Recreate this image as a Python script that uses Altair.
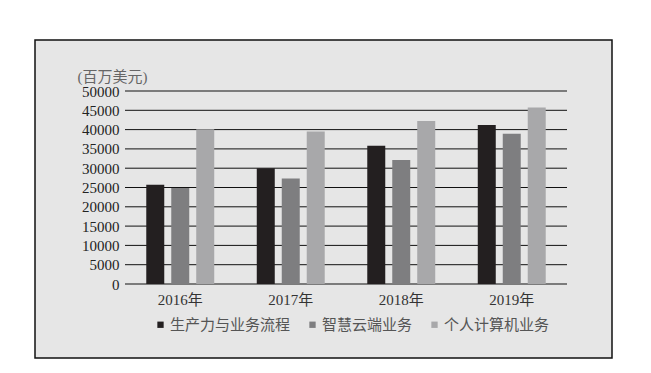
import altair as alt
import pandas as pd

years = ["2016年", "2017年", "2018年", "2019年"]
series = ["生产力与业务流程", "智慧云端业务", "个人计算机业务"]
productivity = [25700, 30000, 35800, 41200]
cloud = [24900, 27300, 32100, 38900]
pc = [40100, 39500, 42200, 45700]
y_ticks = list(range(0, 50001, 5000))
colors = ["#231f20", "#7e7e80", "#a8a8aa"]

rows = []
for i, yr in enumerate(years):
    for s, vals in zip(series, [productivity, cloud, pc]):
        rows.append({"year": yr, "series": s, "value": vals[i]})
df = pd.DataFrame(rows)
grid_df = pd.DataFrame({"value": y_ticks})

FONT = "Liberation Serif, Noto Sans CJK SC"
W, H = 442, 193

box = alt.Chart(pd.DataFrame({"a": [0]})).mark_rect(
    fill="#e6e6e6", stroke="#111", strokeWidth=1.5
).encode(
    x=alt.value(-90), x2=alt.value(487), y=alt.value(-51), y2=alt.value(267)
)

yscale = alt.Scale(domain=[0, 50000], nice=False)
y_axis = alt.Axis(values=y_ticks, format="d", grid=False, domain=False, ticks=False,
                  labelPadding=6, labelFont=FONT, labelFontSize=15,
                  labelColor="#222", title="(百万美元)", titleAngle=0,
                  titleAlign="left", titleBaseline="alphabetic",
                  titleX=-48, titleY=-10, titleFont=FONT, titleFontSize=15,
                  titleFontWeight="normal", titleColor="#666", zindex=1)

grid = alt.Chart(grid_df).mark_rule(color="#111", strokeWidth=1).encode(
    y=alt.Y("value:Q", scale=yscale, axis=y_axis, title="(百万美元)"),
    x=alt.value(0), x2=alt.value(W),
)

bars = alt.Chart(df).mark_bar().encode(
    x=alt.X("year:N", sort=years, title=None,
            scale=alt.Scale(paddingInner=0.385, paddingOuter=0.1925),
            axis=alt.Axis(labelAngle=0, domain=False, ticks=False, labelPadding=8,
                          labelFont=FONT, labelFontSize=15, labelColor="#333", zindex=1)),
    xOffset=alt.XOffset("series:N", sort=series,
                        scale=alt.Scale(paddingInner=0.28, paddingOuter=0)),
    y=alt.Y("value:Q", scale=yscale, axis=y_axis, title="(百万美元)"),
    color=alt.Color("series:N", sort=series,
                    scale=alt.Scale(domain=series, range=colors),
                    legend=alt.Legend(title=None, orient="none", direction="horizontal",
                                      legendX=28, legendY=226, symbolType="square",
                                      symbolSize=40, symbolStrokeWidth=0,
                                      labelFont=FONT, labelFontSize=15, labelColor="#555",
                                      columnPadding=14, labelOffset=2, zindex=1)),
)

chart = alt.layer(box, grid, bars).properties(
    width=W, height=H,
    autosize=alt.AutoSizeParams(type="none"),
    padding={"left": 117, "top": 83, "right": 76, "bottom": 81},
    background="white",
).configure_view(stroke=None).configure_axisY(
    labelFont=FONT, titleFont=FONT, labelFontSize=15
).configure_axis(labelFont=FONT, titleFont=FONT)

chart.save("out.html", embed_options={"renderer": "svg", "actions": False})
